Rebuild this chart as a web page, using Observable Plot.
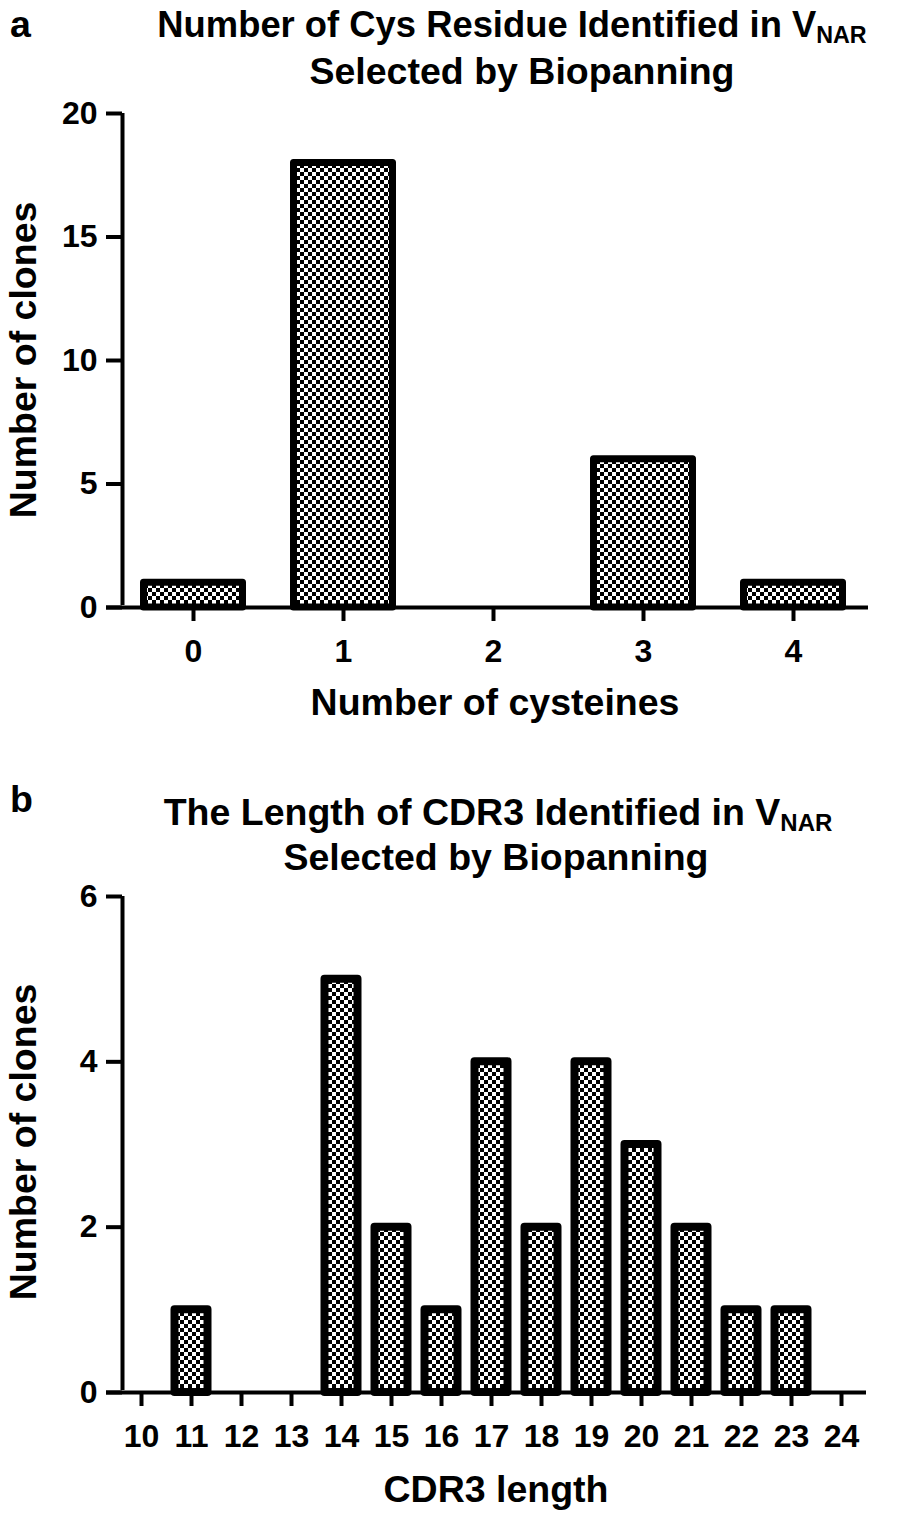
<!DOCTYPE html>
<html><head><meta charset="utf-8">
<script src="https://cdn.jsdelivr.net/npm/d3@7"></script>
<script src="https://cdn.jsdelivr.net/npm/@observablehq/plot@0.6"></script>
<style>
body{margin:0;background:#fff;}
#root{position:relative;width:898px;height:1516px;overflow:hidden;font-family:"Liberation Sans",Arial,sans-serif;font-weight:bold;color:#000;background:#fff;}
.t{position:absolute;white-space:nowrap;font-size:37.5px;line-height:37.5px;z-index:2;}
.c{transform:translateX(-50%);}
.t sub{font-size:24px;vertical-align:-6px;line-height:0;}
.rot{transform:translate(-50%,-50%) rotate(-90deg);}
.plot{position:absolute;left:0;}
</style>
</head><body>
<div id="root">
  <div class="t" style="left:10px;top:6px;">a</div>
  <div class="t c" style="left:512px;top:6px;"><span style="display:inline-block;transform:scaleX(0.97);">Number of Cys Residue Identified in V<sub>NAR</sub></span></div>
  <div class="t c" style="left:522px;top:53px;">Selected by Biopanning</div>
  <div class="t rot" style="left:24px;top:360px;">Number of clones</div>
  <div class="t c" style="left:495px;top:684px;">Number of cysteines</div>

  <div class="t" style="left:10px;top:781px;">b</div>
  <div class="t c" style="left:498px;top:794px;">The Length of CDR3 Identified in V<sub>NAR</sub></div>
  <div class="t c" style="left:496px;top:839px;">Selected by Biopanning</div>
  <div class="t rot" style="left:24px;top:1142px;">Number of clones</div>
  <div class="t c" style="left:496px;top:1471px;">CDR3 length</div>
</div>
<script>
// Panel a data
const cysCategories = [0, 1, 2, 3, 4];
const cysClones = [1, 18, 0, 6, 1];
const cysYTicks = [0, 5, 10, 15, 20];
// Panel b data
const cdr3Lengths = [10, 11, 12, 13, 14, 15, 16, 17, 18, 19, 20, 21, 22, 23, 24];
const cdr3Clones = [0, 1, 0, 0, 5, 2, 1, 4, 2, 4, 3, 2, 1, 1, 0];
const cdr3YTicks = [0, 2, 4, 6];

const dataA = cysCategories.map((x, i) => ({x, v: cysClones[i]}));
const dataB = cdr3Lengths.map((x, i) => ({x, v: cdr3Clones[i]}));

function addPattern(svg, id) {
  const defs = d3.select(svg).insert("defs", ":first-child");
  const p = defs.append("pattern").attr("id", id).attr("width", 8).attr("height", 8).attr("patternUnits", "userSpaceOnUse");
  p.append("rect").attr("width", 8).attr("height", 8).attr("fill", "#fff");
  p.append("rect").attr("width", 4).attr("height", 4).attr("fill", "#000");
  p.append("rect").attr("x", 4).attr("y", 4).attr("width", 4).attr("height", 4).attr("fill", "#000");
}

function panel({data, categories, yTicks, yMax, xRange, halfWidth, strokeW, top, height, marginTop, marginBottom, id, extLeft}) {
  const xMin = categories[0] - 0.5, xMax = categories[categories.length - 1] + 0.5;
  const svg = Plot.plot({
    width: 898,
    height,
    marginLeft: 122,
    marginRight: 898 - xRange[1],
    marginTop,
    marginBottom,
    style: {fontFamily: "'Liberation Sans', Arial, sans-serif", fontWeight: "bold", fontSize: "32px", background: "transparent", color: "#000"},
    x: {domain: [xMin, xMax], range: xRange},
    y: {domain: [0, yMax]},
    marks: [
      Plot.rectY(data.filter(d => d.v > 0), {
        x1: d => d.x - halfWidth, x2: d => d.x + halfWidth, y1: 0, y2: "v",
        fill: `url(#${id})`, stroke: "#000", strokeWidth: strokeW, strokeLinejoin: "round"
      }),
      Plot.axisY({ticks: yTicks, tickSize: 16, tickPadding: 9, strokeWidth: 4, label: null, tickFormat: d => d}),
      Plot.axisX({ticks: categories, tickSize: 14, tickPadding: 18, strokeWidth: 4, label: null, tickFormat: d => d}),
      Plot.ruleX([xMin], {dx: 122 - xRange[0], y1: 0, y2: yMax, strokeWidth: 4, insetTop: -2}),
      Plot.ruleY([0], {strokeWidth: 4, insetLeft: -extLeft})
    ]
  });
  addPattern(svg, id);
  svg.classList.add("plot");
  svg.style.top = top + "px";
  svg.style.position = "absolute";
  document.getElementById("root").appendChild(svg);
}

panel({data: dataA, categories: cysCategories, yTicks: cysYTicks, yMax: 20, xRange: [118, 868], halfWidth: 0.33, strokeW: 7,
  top: 80, height: 610, marginTop: 33, marginBottom: 83, id: "checkA", extLeft: 16});
panel({data: dataB, categories: cdr3Lengths, yTicks: cdr3YTicks, yMax: 6, xRange: [116, 866], halfWidth: 0.33, strokeW: 8,
  top: 860, height: 620, marginTop: 36, marginBottom: 88, id: "checkB", extLeft: 16});
</script>
</body></html>
